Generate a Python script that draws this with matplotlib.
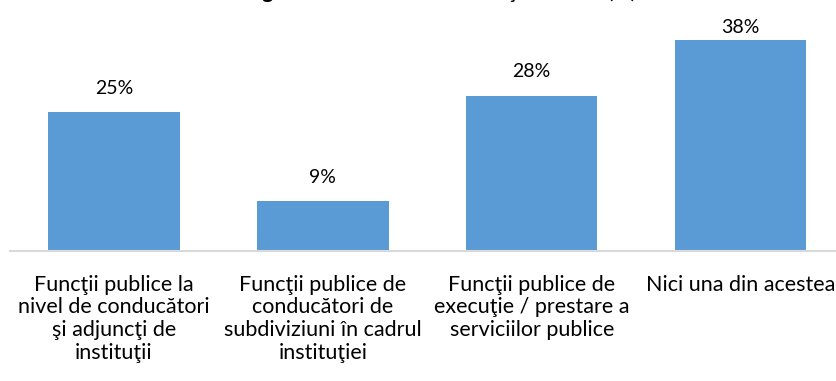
import matplotlib
matplotlib.use("Agg")
import matplotlib.pyplot as plt

categories = [
    "Funcţii publice la\nnivel de conducători\nşi adjuncţi de\ninstituţii",
    "Funcţii publice de\nconducători de\nsubdiviziuni în cadrul\ninstituţiei",
    "Funcţii publice de\nexecuţie / prestare a\nserviciilor publice",
    "Nici una din acestea",
]
values = [25, 9, 28, 38]
value_labels = ["25%", "9%", "28%", "38%"]
title = "Categoria la care se referă funcţia actuală (%)"

plt.rcParams["font.family"] = ["Lato", "DejaVu Sans"]

W, H = 836, 381
fig = plt.figure(figsize=(W / 100, H / 100), dpi=100)
# axes: left 9.5px, right ~845px (runs off the right edge), baseline at y=251
bottom_px, top_px = 251, 29
ax = fig.add_axes([9.5 / W, (H - bottom_px) / H, (845 - 9.5) / W, (bottom_px - top_px) / H])

x = range(len(values))
ax.bar(x, values, width=0.63, color="#5b9bd5", zorder=2)
ax.set_xlim(-0.5, len(values) - 0.5)
ax.set_ylim(0, 40)

# value labels sit above each bar, but stay inside the top of the plot area
label_gap = 4.3
label_cap = 40.2
for xi, v, lab in zip(x, values, value_labels):
    ax.text(xi, min(v + label_gap, label_cap), lab, ha="center", va="center",
            fontsize=14, color="#000000", clip_on=False)

ax.set_xticks(list(x))
ax.set_xticklabels(categories, fontsize=15.5, linespacing=1.17, va="top")
ax.tick_params(axis="x", length=0, pad=17)
ax.set_yticks([])
for s in ["top", "left", "right"]:
    ax.spines[s].set_visible(False)
ax.spines["bottom"].set_color("#d9d9d9")
ax.spines["bottom"].set_linewidth(1.5)

fig.text(0.511, 1 + 1.5 / H, title, ha="center", va="baseline",
         fontsize=15, fontweight="bold")

fig.savefig("out.png", dpi=100)
